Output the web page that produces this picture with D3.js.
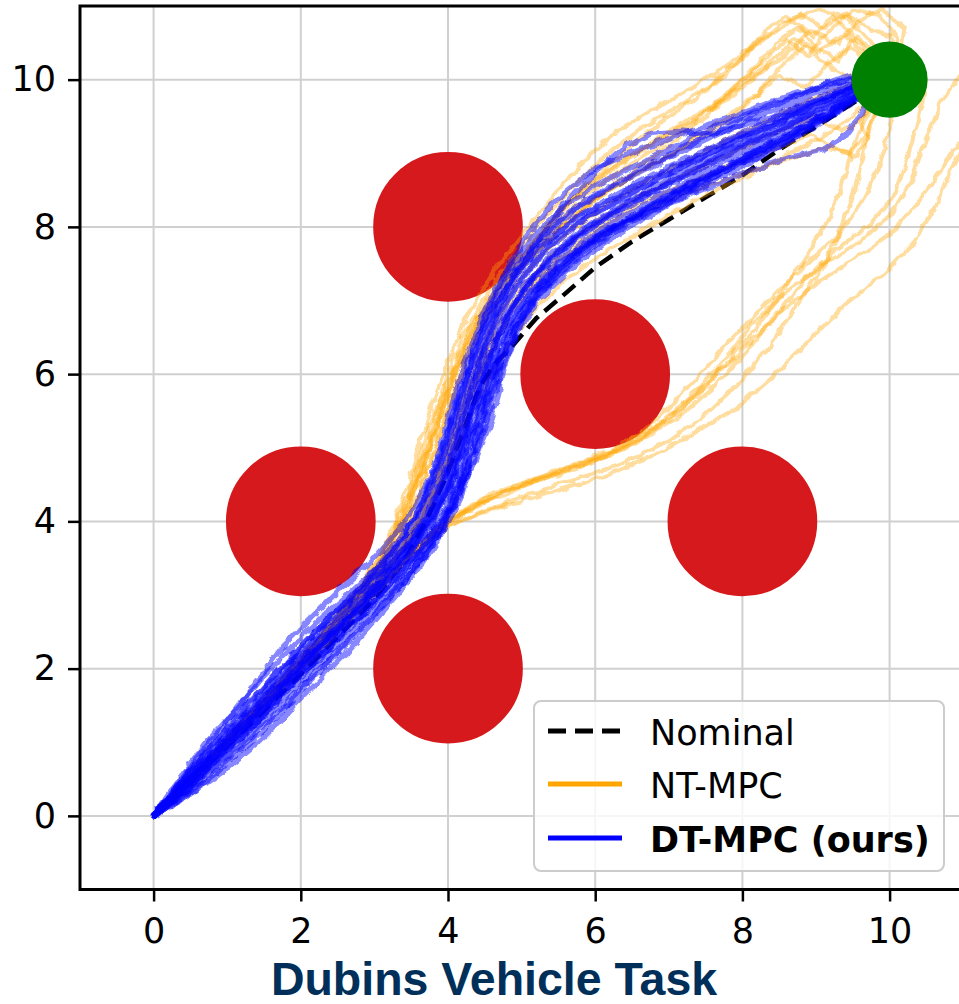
<!DOCTYPE html>
<html>
<head>
<meta charset="utf-8">
<script src="https://cdn.jsdelivr.net/npm/d3@7"></script>
<style>
  html, body { margin: 0; padding: 0; background: #ffffff; }
  svg { display: block; }
</style>
</head>
<body>
<svg id="chart" width="959" height="1004"></svg>
<script>
// ---- data -------------------------------------------------------------
const xTicks = [0, 2, 4, 6, 8, 10];
const yTicks = [0, 2, 4, 6, 8, 10];

const obstacleCenters = [[4, 8], [6, 6], [2, 4], [8, 4], [4, 2]];
const obstacleRadius = 1;
const goalCenter = [10, 10];
const goalRadius = 0.5;

const nominalPath = [[0,0],[0.5,0.47],[1,0.95],[1.5,1.43],[2,1.93],[2.5,2.43],[3,2.95],[3.4,3.45],[3.7,4.0],[3.97,4.6],[4.2,5.2],[4.42,5.8],[4.62,6.12],[4.87,6.38],[5.2,6.76],[5.6,7.1],[6.0,7.45],[6.5,7.8],[7.0,8.1],[7.5,8.4],[8.0,8.7],[8.5,9.05],[9.0,9.36],[9.5,9.68],[10,10]];

// NT-MPC rollouts
const ntMpcPaths = [
  [[0,0],[0.5,0.52],[1.0,1.05],[1.5,1.6],[2.0,2.15],[2.4,2.6],[2.78,3.08],[3.08,3.55],[3.3,4.05],[3.48,4.55],[3.62,5.05],[3.78,5.55],[3.95,6.05],[4.15,6.55],[4.4,7.05],[4.7,7.5],[5.05,7.95],[5.45,8.45],[5.85,8.9],[6.3,9.3],[6.8,9.6],[7.3,9.88],[7.8,10.2],[8.25,10.55],[8.65,10.82],[9.05,10.95],[9.45,10.82],[9.75,10.5],[9.95,10.15]],
  [[0,0],[0.5,0.5],[1.0,1.02],[1.5,1.55],[2.0,2.1],[2.45,2.62],[2.88,3.12],[3.2,3.58],[3.42,4.05],[3.6,4.55],[3.77,5.05],[3.93,5.55],[4.1,6.05],[4.3,6.55],[4.56,7.02],[4.9,7.48],[5.3,7.95],[5.75,8.4],[6.25,8.8],[6.8,9.15],[7.35,9.45],[7.9,9.8],[8.35,10.2],[8.7,10.55],[9.05,10.38],[9.4,10.62],[9.7,10.3],[9.95,10.05]],
  [[0,0],[0.5,0.48],[1.0,0.98],[1.5,1.5],[2.0,2.03],[2.5,2.55],[2.9,3.0],[3.25,3.45],[3.55,3.9],[3.82,4.35],[4.05,4.82],[4.25,5.3],[4.45,5.75],[4.68,6.15],[4.93,6.55],[5.25,6.95],[5.65,7.32],[6.15,7.67],[6.75,8.02],[7.4,8.38],[8.1,8.72],[8.8,9.08],[9.3,9.35],[9.7,9.7],[9.95,9.95]],
  [[0,0],[0.5,0.49],[1.0,1.0],[1.5,1.52],[2.0,2.06],[2.5,2.58],[2.95,3.05],[3.3,3.5],[3.6,3.95],[3.85,4.45],[4.05,4.95],[4.22,5.45],[4.4,5.9],[4.6,6.35],[4.85,6.8],[5.2,7.25],[5.65,7.65],[6.2,7.98],[6.85,8.3],[7.5,8.55],[8.1,8.75],[8.7,8.93],[9.15,9.08],[9.45,9.0],[9.7,9.25],[9.82,9.62],[10,10]],
  [[0,0],[0.5,0.5],[1.0,1.03],[1.5,1.57],[2.0,2.12],[2.45,2.62],[2.85,3.08],[3.15,3.55],[3.38,4.05],[3.56,4.55],[3.74,5.05],[3.9,5.55],[4.08,6.05],[4.3,6.55],[4.6,7.05],[5.0,7.5],[5.45,7.95],[5.95,8.35],[6.5,8.75],[7.0,9.1],[7.5,9.5],[7.9,9.9],[8.3,10.25],[8.6,10.55],[8.9,10.32],[9.2,10.68],[9.5,10.95],[9.85,10.88],[10.1,10.58],[10.05,10.15]],
  [[0,0],[0.5,0.5],[1.0,1.02],[1.5,1.54],[2.0,2.08],[2.5,2.6],[2.95,3.15],[3.25,3.62],[3.48,4.1],[3.68,4.6],[3.86,5.1],[4.02,5.6],[4.2,6.1],[4.42,6.6],[4.72,7.08],[5.1,7.55],[5.55,8.0],[6.05,8.4],[6.6,8.75],[7.15,9.05],[7.7,9.35],[8.15,9.75],[8.5,10.15],[8.85,10.45],[9.15,10.2],[9.45,10.45],[9.75,10.25],[10,10]],
  [[0,0],[0.5,0.5],[1.0,1.02],[1.5,1.53],[2.0,2.06],[2.5,2.58],[2.9,3.02],[3.25,3.5],[3.52,3.95],[3.75,4.42],[3.95,4.9],[4.12,5.38],[4.28,5.85],[4.44,6.3],[4.64,6.76],[4.92,7.22],[5.3,7.65],[5.8,8.05],[6.35,8.42],[6.95,8.75],[7.6,9.08],[8.25,9.4],[8.85,9.7],[9.35,9.9],[9.75,10.0]],
  [[0,0],[0.5,0.51],[1.0,1.03],[1.5,1.56],[2.0,2.1],[2.45,2.6],[2.85,3.1],[3.15,3.58],[3.4,4.08],[3.6,4.58],[3.78,5.08],[3.95,5.58],[4.13,6.08],[4.36,6.58],[4.66,7.08],[5.02,7.62],[5.45,8.15],[5.95,8.6],[6.5,8.98],[7.1,9.35],[7.7,9.72],[8.2,10.08],[8.6,10.35],[8.95,10.68],[9.3,10.48],[9.6,10.82],[9.9,10.95],[10.2,10.7],[10.15,10.3],[10.0,10.05]],
  [[0,0],[0.5,0.52],[1.0,1.04],[1.5,1.58],[2.0,2.13],[2.42,2.62],[2.8,3.1],[3.1,3.56],[3.33,4.05],[3.52,4.55],[3.68,5.05],[3.84,5.55],[4.02,6.05],[4.22,6.55],[4.5,7.05],[4.85,7.55],[5.25,8.05],[5.7,8.55],[6.15,8.98],[6.65,9.35],[7.15,9.65],[7.6,9.95],[8.0,10.3],[8.3,10.65],[8.6,10.85],[8.95,10.6],[9.25,10.85],[9.55,10.55],[9.8,10.25],[10,10.05]],
  [[0,0],[0.5,0.49],[1.0,0.99],[1.5,1.51],[2.0,2.05],[2.5,2.57],[2.92,3.04],[3.28,3.5],[3.57,3.96],[3.8,4.44],[3.99,4.92],[4.16,5.4],[4.33,5.87],[4.5,6.32],[4.72,6.77],[5.02,7.22],[5.42,7.62],[5.92,8.0],[6.5,8.35],[7.15,8.68],[7.85,9.0],[8.5,9.3],[9.0,9.5],[9.35,9.3],[9.6,9.45],[9.75,9.75],[9.95,10.0]],
  [[0,0],[0.5,0.5],[1.0,1.01],[1.5,1.53],[2.0,2.07],[2.48,2.6],[2.9,3.08],[3.22,3.55],[3.46,4.02],[3.66,4.5],[3.84,5.0],[4.0,5.5],[4.18,6.0],[4.38,6.48],[4.64,6.95],[4.98,7.42],[5.4,7.88],[5.9,8.3],[6.45,8.65],[7.05,9.0],[7.65,9.4],[8.15,9.78],[8.5,10.05],[8.85,9.9],[9.15,10.2],[9.45,10.05],[9.75,10.1],[10,10]],
  [[0,0],[0.5,0.5],[1.0,1.02],[1.5,1.55],[2.0,2.09],[2.46,2.6],[2.87,3.1],[3.18,3.57],[3.41,4.06],[3.6,4.56],[3.78,5.06],[3.94,5.56],[4.12,6.06],[4.34,6.56],[4.62,7.05],[4.98,7.52],[5.4,7.98],[5.88,8.42],[6.4,8.8],[6.95,9.15],[7.45,9.5],[7.85,9.85],[8.2,10.2],[8.45,10.5],[8.75,10.7],[9.0,10.45],[9.3,10.25],[9.55,10.6],[9.75,10.4],[9.95,10.1]],
  [[0,0],[0.5,0.51],[1.0,1.03],[1.5,1.56],[2.0,2.11],[2.44,2.61],[2.84,3.09],[3.13,3.56],[3.36,4.06],[3.55,4.56],[3.72,5.06],[3.88,5.56],[4.06,6.06],[4.28,6.56],[4.56,7.06],[4.92,7.55],[5.35,8.02],[5.82,8.5],[6.3,8.95],[6.8,9.35],[7.3,9.7],[7.75,10.05],[8.1,10.4],[8.45,10.65],[8.8,10.9],[9.1,10.7],[9.4,10.9],[9.7,10.7],[10.0,10.6],[10.1,10.3]],
  [[0,0],[0.5,0.49],[1.0,1.0],[1.5,1.51],[2.0,2.04],[2.5,2.56],[2.93,3.03],[3.29,3.49],[3.58,3.95],[3.82,4.42],[4.02,4.9],[4.19,5.38],[4.36,5.85],[4.54,6.3],[4.77,6.75],[5.08,7.18],[5.5,7.58],[6.0,7.95],[6.6,8.3],[7.25,8.6],[7.95,8.88],[8.55,9.1],[8.95,9.25],[9.3,9.05],[9.55,8.95],[9.7,9.2],[9.6,9.45],[9.8,9.7],[10,10]],
  [[0,0],[0.5,0.49],[1.0,0.98],[1.5,1.48],[2.0,1.99],[2.5,2.5],[3.0,3.0],[3.4,3.42],[3.75,3.75],[4.1,3.98],[4.5,4.15],[5.0,4.33],[5.5,4.5],[6.0,4.65],[6.5,4.85],[7.0,5.1],[7.5,5.45],[7.95,5.88],[8.35,6.35],[8.7,6.88],[9.05,7.4],[9.3,7.9],[9.5,8.4],[9.62,8.9],[9.75,9.4],[9.9,9.8]],
  [[0,0],[0.5,0.5],[1.0,0.99],[1.5,1.49],[2.0,2.0],[2.5,2.52],[3.0,3.03],[3.45,3.5],[3.85,3.85],[4.3,4.07],[4.9,4.25],[5.5,4.42],[6.1,4.6],[6.7,4.85],[7.3,5.18],[7.9,5.52],[8.4,5.95],[8.9,6.45],[9.4,6.95],[9.9,7.35],[10.3,7.75],[10.6,8.25],[10.85,8.8],[11.1,9.3]],
  [[0,0],[0.5,0.5],[1.0,1.0],[1.5,1.5],[2.0,2.01],[2.5,2.51],[3.0,3.02],[3.4,3.45],[3.8,3.85],[4.25,4.15],[4.8,4.42],[5.4,4.62],[6.0,4.82],[6.6,5.1],[7.15,5.5],[7.65,6.0],[8.1,6.52],[8.5,7.05],[8.85,7.57],[9.15,8.07],[9.35,8.57],[9.5,9.05],[9.7,9.55],[9.9,9.9]],
  [[0,0],[0.5,0.49],[1.0,0.99],[1.5,1.5],[2.0,2.02],[2.5,2.53],[3.0,3.05],[3.5,3.55],[3.9,3.92],[4.4,4.22],[5.0,4.47],[5.6,4.68],[6.2,4.9],[6.8,5.25],[7.3,5.7],[7.75,6.18],[8.15,6.7],[8.6,7.12],[9.1,7.48],[9.6,7.8],[10.0,8.15],[10.3,8.65],[10.5,9.2],[10.7,9.7],[11.0,10.1]],
  [[0,0],[0.5,0.5],[1.0,1.0],[1.5,1.51],[2.0,2.02],[2.5,2.54],[3.0,3.06],[3.55,3.6],[3.95,3.97],[4.5,4.3],[5.2,4.58],[5.8,4.8],[6.4,5.05],[7.0,5.4],[7.5,5.85],[8.0,6.33],[8.5,6.82],[9.0,7.23],[9.5,7.55],[10.0,7.9],[10.4,8.35],[10.75,8.85],[11.1,9.35]],
  [[0,0],[0.5,0.5],[1.0,1.01],[1.5,1.52],[2.0,2.03],[2.5,2.55],[3.0,3.08],[3.6,3.68],[4.05,4.05],[4.6,4.38],[5.3,4.62],[5.9,4.83],[6.5,5.05],[7.1,5.38],[7.6,5.82],[8.05,6.3],[8.45,6.8],[8.85,7.28],[9.25,7.68],[9.7,8.0],[10.05,8.4],[10.25,8.95],[10.4,9.5],[10.5,9.95],[10.35,10.3],[10.1,10.1]],
  [[0,0],[0.5,0.5],[1.0,1.0],[1.5,1.5],[2.0,2.02],[2.5,2.53],[3.0,3.04],[3.5,3.58],[3.88,3.93],[4.35,4.2],[4.95,4.47],[5.55,4.68],[6.15,4.9],[6.6,5.18],[7.0,5.55],[7.5,6.08],[8.0,6.62],[8.45,7.1],[8.9,7.52],[9.3,7.88],[9.6,8.3],[9.85,8.8],[10.0,9.3],[10.05,9.7]]
];

// DT-MPC rollouts
const dtMpcPaths = [
  [[0,0],[0.42,0.37],[0.79,0.83],[1.23,1.17],[1.58,1.65],[2.03,2.02],[2.38,2.48],[2.83,2.83],[3.13,3.25],[3.52,3.6],[3.78,4.08],[4.03,4.48],[4.13,4.97],[4.3,5.38],[4.4,5.87],[4.59,6.28],[4.75,6.77],[5.07,7.18],[5.4,7.63],[5.92,7.96],[6.43,8.33],[7.12,8.63],[7.78,9.03],[8.52,9.31],[9.08,9.65],[9.57,9.83],[9.85,10.0]],
  [[0,0],[0.36,0.44],[0.72,0.9],[1.12,1.3],[1.5,1.75],[1.9,2.18],[2.3,2.6],[2.7,2.99],[3.02,3.36],[3.36,3.78],[3.64,4.2],[3.84,4.62],[3.99,5.07],[4.12,5.5],[4.27,5.95],[4.41,6.4],[4.6,6.86],[4.88,7.32],[5.25,7.74],[5.75,8.13],[6.35,8.47],[7.0,8.82],[7.75,9.15],[8.45,9.48],[9.05,9.75],[9.52,9.93],[9.85,10.03]],
  [[0,0],[0.45,0.34],[0.88,0.7],[1.3,1.08],[1.7,1.5],[2.1,1.92],[2.5,2.32],[2.9,2.72],[3.28,3.08],[3.64,3.48],[3.95,3.92],[4.15,4.4],[4.3,4.86],[4.43,5.32],[4.57,5.77],[4.72,6.22],[4.93,6.66],[5.22,7.08],[5.6,7.46],[6.05,7.83],[6.58,8.15],[7.2,8.5],[7.88,8.85],[8.55,9.2],[9.12,9.52],[9.58,9.78],[9.87,9.96]],
  [[0,0],[0.38,0.43],[0.75,0.86],[1.14,1.27],[1.52,1.71],[1.92,2.15],[2.3,2.58],[2.7,2.98],[3.05,3.35],[3.38,3.76],[3.62,4.2],[3.8,4.65],[3.93,5.1],[4.04,5.55],[4.18,6.0],[4.33,6.45],[4.52,6.9],[4.8,7.4],[5.15,7.85],[5.6,8.3],[6.1,8.62],[6.8,8.95],[7.5,9.3],[8.3,9.62],[8.95,9.85],[9.45,10.0],[9.8,10.05]],
  [[0,0],[0.4,0.41],[0.78,0.84],[1.17,1.24],[1.56,1.68],[1.96,2.1],[2.35,2.52],[2.75,2.92],[3.1,3.3],[3.45,3.7],[3.72,4.12],[3.92,4.58],[4.05,5.02],[4.17,5.48],[4.3,5.93],[4.45,6.38],[4.65,6.85],[4.9,7.35],[5.2,7.8],[5.55,8.25],[5.95,8.7],[6.35,9.05],[6.75,9.27],[7.2,9.3],[7.6,9.25],[8.1,9.4],[8.7,9.6],[9.2,9.78],[9.6,9.92],[9.9,10.0]],
  [[0,0],[0.43,0.36],[0.85,0.75],[1.26,1.14],[1.66,1.55],[2.06,1.97],[2.46,2.38],[2.86,2.78],[3.22,3.15],[3.58,3.55],[3.9,3.98],[4.15,4.42],[4.38,4.85],[4.55,5.28],[4.68,5.7],[4.78,6.15],[4.95,6.6],[5.2,7.05],[5.55,7.45],[6.0,7.82],[6.55,8.15],[7.2,8.48],[7.9,8.82],[8.6,9.15],[9.15,9.48],[9.6,9.78],[9.88,9.97]],
  [[0,0],[0.41,0.39],[0.82,0.78],[1.22,1.19],[1.63,1.6],[2.02,2.04],[2.42,2.44],[2.82,2.84],[3.18,3.2],[3.52,3.6],[3.82,4.02],[4.04,4.46],[4.19,4.92],[4.33,5.36],[4.47,5.81],[4.63,6.25],[4.84,6.7],[5.13,7.12],[5.52,7.5],[6.0,7.85],[6.6,8.15],[7.25,8.42],[7.95,8.7],[8.6,8.93],[9.1,9.05],[9.4,9.25],[9.65,9.6],[9.88,9.92]],
  [[0,0],[0.38,0.42],[0.77,0.83],[1.17,1.24],[1.56,1.66],[1.97,2.09],[2.36,2.5],[2.76,2.9],[3.1,3.27],[3.44,3.68],[3.72,4.1],[3.93,4.55],[4.07,5.0],[4.2,5.45],[4.34,5.9],[4.49,6.35],[4.68,6.8],[4.96,7.26],[5.32,7.67],[5.8,8.06],[6.37,8.38],[7.02,8.73],[7.72,9.08],[8.45,9.4],[9.05,9.69],[9.52,9.9],[9.84,10.02]],
  [[0,0],[0.42,0.38],[0.83,0.76],[1.24,1.15],[1.64,1.57],[2.04,1.99],[2.44,2.4],[2.84,2.79],[3.2,3.15],[3.56,3.55],[3.87,3.98],[4.08,4.44],[4.22,4.9],[4.35,5.35],[4.49,5.8],[4.65,6.25],[4.85,6.7],[5.13,7.14],[5.5,7.53],[5.98,7.9],[6.52,8.22],[7.16,8.57],[7.85,8.93],[8.54,9.27],[9.12,9.57],[9.57,9.82],[9.86,9.98]],
  [[0,0],[0.35,0.45],[0.7,0.92],[1.05,1.35],[1.4,1.82],[1.75,2.3],[2.15,2.7],[2.55,3.1],[2.95,3.45],[3.3,3.85],[3.58,4.25],[3.8,4.7],[3.97,5.15],[4.12,5.6],[4.28,6.05],[4.45,6.5],[4.66,6.95],[4.95,7.38],[5.32,7.78],[5.8,8.15],[6.36,8.45],[7.0,8.78],[7.7,9.12],[8.4,9.42],[9.0,9.7],[9.5,9.9],[9.85,10.02]],
  [[0,0],[0.47,0.3],[0.92,0.64],[1.35,1.02],[1.76,1.44],[2.15,1.86],[2.55,2.26],[2.95,2.68],[3.3,3.06],[3.62,3.47],[3.9,3.92],[4.1,4.38],[4.25,4.85],[4.38,5.3],[4.52,5.75],[4.68,6.2],[4.88,6.65],[5.17,7.1],[5.55,7.5],[6.04,7.88],[6.6,8.2],[7.25,8.55],[7.95,8.9],[8.62,9.22],[9.18,9.52],[9.6,9.8],[9.88,9.97]],
  [[0,0],[0.4,0.4],[0.8,0.81],[1.2,1.22],[1.6,1.63],[2.0,2.07],[2.39,2.47],[2.78,2.87],[3.12,3.24],[3.46,3.64],[3.74,4.07],[3.95,4.52],[4.1,4.97],[4.22,5.42],[4.35,5.88],[4.48,6.33],[4.65,6.8],[4.9,7.3],[5.22,7.78],[5.65,8.2],[6.2,8.55],[6.85,8.9],[7.55,9.25],[8.25,9.58],[8.9,9.85],[9.4,10.05],[9.8,10.1]],
  [[0,0],[0.44,0.35],[0.86,0.74],[1.27,1.13],[1.67,1.54],[2.07,1.96],[2.47,2.36],[2.87,2.76],[3.24,3.12],[3.6,3.5],[3.92,3.93],[4.14,4.38],[4.32,4.83],[4.46,5.28],[4.6,5.73],[4.74,6.2],[4.92,6.65],[5.18,7.07],[5.55,7.47],[6.02,7.84],[6.56,8.17],[7.2,8.52],[7.9,8.88],[8.58,9.22],[9.14,9.53],[9.58,9.8],[9.87,9.98]],
  [[0,0],[0.39,0.41],[0.81,0.79],[1.19,1.21],[1.61,1.61],[1.99,2.06],[2.41,2.44],[2.79,2.86],[3.16,3.21],[3.49,3.63],[3.79,4.06],[3.99,4.51],[4.16,4.94],[4.27,5.41],[4.43,5.84],[4.56,6.31],[4.78,6.74],[5.04,7.21],[5.43,7.59],[5.89,7.99],[6.46,8.29],[7.09,8.66],[7.81,8.99],[8.49,9.34],[9.11,9.61],[9.54,9.86],[9.86,9.99]],
  [[0,0],[0.37,0.43],[0.76,0.85],[1.15,1.27],[1.54,1.7],[1.94,2.13],[2.33,2.55],[2.72,2.95],[3.07,3.32],[3.4,3.73],[3.66,4.16],[3.86,4.6],[4.0,5.05],[4.12,5.5],[4.25,5.95],[4.38,6.4],[4.55,6.88],[4.78,7.38],[5.08,7.9],[5.5,8.4],[6.0,8.8],[6.6,9.05],[7.3,9.3],[8.0,9.55],[8.7,9.8],[9.3,9.98],[9.75,10.05]],
  [[0,0],[0.44,0.36],[0.85,0.75],[1.26,1.14],[1.66,1.56],[2.07,1.97],[2.47,2.37],[2.86,2.77],[3.22,3.14],[3.57,3.53],[3.88,3.96],[4.1,4.42],[4.24,4.88],[4.38,5.33],[4.52,5.78],[4.68,6.23],[4.88,6.68],[5.16,7.11],[5.53,7.5],[6.0,7.87],[6.55,8.18],[7.18,8.53],[7.88,8.88],[8.56,9.22],[9.13,9.53],[9.58,9.8],[9.87,9.97]],
  [[0,0],[0.38,0.46],[0.76,0.92],[1.15,1.37],[1.54,1.8],[1.94,2.24],[2.34,2.64],[2.76,3.02],[3.14,3.36],[3.5,3.72],[3.84,4.12],[4.06,4.55],[4.2,5.0],[4.33,5.45],[4.47,5.9],[4.62,6.35],[4.82,6.8],[5.1,7.25],[5.47,7.66],[5.95,8.05],[6.5,8.38],[7.15,8.74],[7.85,9.08],[8.53,9.42],[9.1,9.7],[9.55,9.9],[9.86,10.02]],
  [[0,0],[0.44,0.3],[0.88,0.66],[1.3,1.04],[1.72,1.44],[2.12,1.86],[2.52,2.26],[2.92,2.66],[3.28,3.05],[3.62,3.46],[3.94,3.9],[4.16,4.37],[4.3,4.83],[4.44,5.3],[4.58,5.75],[4.73,6.2],[4.94,6.64],[5.22,7.05],[5.6,7.43],[6.07,7.8],[6.6,8.12],[7.23,8.48],[7.92,8.84],[8.6,9.18],[9.16,9.5],[9.6,9.76],[9.88,9.95]],
  [[0,0],[0.36,0.5],[0.72,1.0],[1.1,1.42],[1.48,1.88],[1.88,2.3],[2.3,2.7],[2.72,3.07],[3.1,3.42],[3.42,3.84],[3.66,4.26],[3.84,4.7],[3.98,5.15],[4.1,5.6],[4.24,6.05],[4.4,6.5],[4.6,6.95],[4.88,7.42],[5.25,7.85],[5.72,8.25],[6.3,8.58],[6.95,8.92],[7.65,9.25],[8.35,9.55],[8.98,9.8],[9.48,9.97],[9.83,10.05]],
  [[0,0],[0.48,0.28],[0.94,0.6],[1.38,0.97],[1.8,1.38],[2.2,1.8],[2.6,2.2],[2.98,2.62],[3.33,3.02],[3.66,3.44],[3.96,3.9],[4.18,4.36],[4.34,4.82],[4.5,5.28],[4.64,5.72],[4.78,6.18],[4.97,6.62],[5.25,7.03],[5.64,7.4],[6.1,7.78],[6.63,8.1],[7.26,8.45],[7.95,8.8],[8.62,9.15],[9.17,9.48],[9.6,9.75],[9.88,9.95]],
  [[0,0],[0.43,0.38],[0.84,0.78],[1.24,1.19],[1.64,1.61],[2.03,2.04],[2.42,2.46],[2.81,2.87],[3.15,3.24],[3.47,3.65],[3.74,4.09],[3.94,4.54],[4.09,4.99],[4.22,5.44],[4.36,5.89],[4.51,6.34],[4.7,6.8],[4.97,7.27],[5.33,7.7],[5.82,8.1],[6.4,8.42],[7.05,8.76],[7.76,9.1],[8.47,9.42],[9.07,9.7],[9.53,9.9],[9.85,10.02]],
  [[0,0],[0.41,0.4],[0.81,0.81],[1.2,1.21],[1.61,1.62],[2.0,2.04],[2.41,2.45],[2.81,2.84],[3.17,3.2],[3.51,3.61],[3.81,4.04],[4.01,4.49],[4.16,4.94],[4.29,5.39],[4.44,5.84],[4.58,6.29],[4.79,6.73],[5.06,7.19],[5.44,7.58],[5.91,7.97],[6.47,8.29],[7.11,8.64],[7.82,8.99],[8.51,9.32],[9.1,9.62],[9.56,9.85],[9.86,10.0]]
];

const legendLabels = ["Nominal", "NT-MPC", "DT-MPC (ours)"];
const titleText = "Dubins Vehicle Task";

// ---- layout -----------------------------------------------------------
const svg = d3.select("#chart");
const W = 959, H = 1004;
const plot = { left: 80, top: 6, right: 963.2, bottom: 889.5 };

const x = d3.scaleLinear().domain([-1, 11]).range([plot.left, plot.right]);
const y = d3.scaleLinear().domain([-1, 11]).range([plot.bottom, plot.top]);
const rPx = r => x(r) - x(0);

svg.append("rect").attr("width", W).attr("height", H).attr("fill", "#ffffff");

const defs = svg.append("defs");
defs.append("clipPath").attr("id", "plot-clip")
  .append("rect")
  .attr("x", plot.left).attr("y", plot.top)
  .attr("width", plot.right - plot.left).attr("height", plot.bottom - plot.top);

// small-scale wobble so each noisy rollout reads as a jagged trace
const wobbleSeeds = [3, 11, 19, 27, 41];
wobbleSeeds.forEach((seed, i) => {
  const f = defs.append("filter").attr("id", `wobble-${i}`)
    .attr("filterUnits", "userSpaceOnUse")
    .attr("x", 0).attr("y", 0).attr("width", W).attr("height", H);
  f.append("feTurbulence").attr("type", "fractalNoise")
    .attr("baseFrequency", 0.09).attr("numOctaves", 2).attr("seed", seed)
    .attr("result", "noise");
  f.append("feDisplacementMap").attr("in", "SourceGraphic").attr("in2", "noise")
    .attr("scale", 7).attr("xChannelSelector", "R").attr("yChannelSelector", "G");
});

const body = svg.append("g").attr("clip-path", "url(#plot-clip)");

// grid
body.append("g").selectAll("line").data(xTicks).join("line")
  .attr("x1", d => x(d)).attr("x2", d => x(d))
  .attr("y1", plot.top).attr("y2", plot.bottom)
  .attr("stroke", "#d0d0d0").attr("stroke-width", 2);
body.append("g").selectAll("line").data(yTicks).join("line")
  .attr("y1", d => y(d)).attr("y2", d => y(d))
  .attr("x1", plot.left).attr("x2", plot.right)
  .attr("stroke", "#d0d0d0").attr("stroke-width", 2);

// obstacles
body.append("g").selectAll("circle").data(obstacleCenters).join("circle")
  .attr("cx", d => x(d[0])).attr("cy", d => y(d[1]))
  .attr("r", rPx(obstacleRadius))
  .attr("fill", "#d6191c").attr("stroke", "#d6191c").attr("stroke-width", 2.5);

const line = d3.line().x(d => x(d[0])).y(d => y(d[1]));

// nominal plan
body.append("path").datum(nominalPath)
  .attr("d", line).attr("fill", "none")
  .attr("stroke", "#000000").attr("stroke-width", 4.5)
  .attr("stroke-dasharray", "16,8");

// rollouts
body.append("g").selectAll("path").data(ntMpcPaths).join("path")
  .attr("d", line).attr("fill", "none")
  .attr("stroke", "#ffa500").attr("stroke-opacity", 0.38)
  .attr("stroke-width", 4).attr("stroke-linejoin", "round").attr("stroke-linecap", "round")
  .attr("filter", (d, i) => `url(#wobble-${i % wobbleSeeds.length})`);

body.append("g").selectAll("path").data(dtMpcPaths).join("path")
  .attr("d", line).attr("fill", "none")
  .attr("stroke", "#0000ff").attr("stroke-opacity", 0.47)
  .attr("stroke-width", 5.5).attr("stroke-linejoin", "round").attr("stroke-linecap", "round")
  .attr("filter", (d, i) => `url(#wobble-${(i + 2) % wobbleSeeds.length})`);

// goal
body.append("circle")
  .attr("cx", x(goalCenter[0])).attr("cy", y(goalCenter[1]))
  .attr("r", rPx(goalRadius))
  .attr("fill", "#008000").attr("stroke", "#008000").attr("stroke-width", 2.5);

// ---- axes -------------------------------------------------------------
const tickFont = "'DejaVu Sans', sans-serif";

const xAxis = svg.append("g").attr("transform", `translate(0,${plot.bottom})`)
  .call(d3.axisBottom(x).tickValues(xTicks).tickSize(12).tickPadding(17).tickFormat(d3.format("d")));
const yAxis = svg.append("g").attr("transform", `translate(${plot.left},0)`)
  .call(d3.axisLeft(y).tickValues(yTicks).tickSize(12).tickPadding(12).tickFormat(d3.format("d")));

[xAxis, yAxis].forEach(g => {
  g.select(".domain").remove();
  g.selectAll(".tick line").attr("stroke", "#000").attr("stroke-width", 2.5);
  g.selectAll(".tick text").attr("fill", "#000")
    .style("font-family", tickFont).style("font-size", "35px");
});

// spines (left, top, bottom; right edge lies beyond the canvas)
svg.append("path")
  .attr("d", `M${plot.right},${plot.top}H${plot.left}V${plot.bottom}H${plot.right}`)
  .attr("fill", "none").attr("stroke", "#000").attr("stroke-width", 3);

// ---- legend -----------------------------------------------------------
const legend = svg.append("g");
legend.append("rect")
  .attr("x", 534).attr("y", 701).attr("width", 410).attr("height", 170)
  .attr("rx", 7).attr("ry", 7)
  .attr("fill", "#ffffff").attr("fill-opacity", 0.8)
  .attr("stroke", "#cccccc").attr("stroke-width", 2);

const legendStyles = [
  { color: "#000000", dash: "18,9", weight: "normal" },
  { color: "#ffa500", dash: null, weight: "normal" },
  { color: "#0000ff", dash: null, weight: "bold" }
];
const legendRowY = [731, 784, 838];

legendLabels.forEach((label, i) => {
  const st = legendStyles[i];
  legend.append("line")
    .attr("x1", 548).attr("x2", 622)
    .attr("y1", legendRowY[i]).attr("y2", legendRowY[i])
    .attr("stroke", st.color).attr("stroke-width", 5)
    .attr("stroke-dasharray", st.dash);
  legend.append("text")
    .attr("x", 650).attr("y", legendRowY[i] + 13.5)
    .style("font-family", tickFont).style("font-size", "35px")
    .style("font-weight", st.weight)
    .attr("fill", "#000")
    .text(label);
});

// ---- title ------------------------------------------------------------
svg.append("text")
  .attr("x", 494).attr("y", 995)
  .attr("text-anchor", "middle")
  .style("font-family", "'Liberation Sans', Arial, sans-serif")
  .style("font-weight", "bold").style("font-size", "46.5px")
  .attr("fill", "#00305a")
  .text(titleText);
</script>
</body>
</html>
